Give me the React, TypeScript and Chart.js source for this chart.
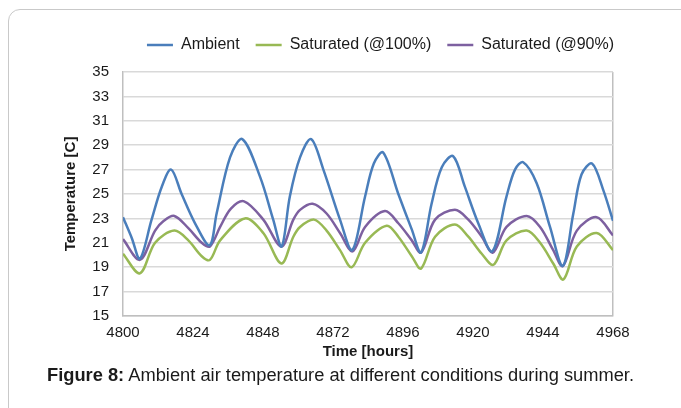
import React, { useEffect, useRef } from "react";
import { Chart, registerables } from "chart.js";

Chart.register(...registerables);

const xTickValues = [4800, 4824, 4848, 4872, 4896, 4920, 4944, 4968];
const yTickValues = [15, 17, 19, 21, 23, 25, 27, 29, 31, 33, 35];

const seriesLabels = ["Ambient", "Saturated (@100%)", "Saturated (@90%)"];

const ambientHours = [4800, 4803, 4805.8, 4809.8, 4813.3, 4816.5, 4820.1, 4824.7, 4829.7, 4832.1, 4836.7, 4840.9, 4847, 4851.5, 4854.4, 4857.2, 4860.7, 4864.5, 4868.7, 4874.4, 4878.6, 4883, 4886, 4889.2, 4894.4, 4899, 4902.2, 4905.8, 4909.3, 4913.2, 4917.2, 4921.8, 4926.6, 4931.5, 4934.4, 4937.2, 4941.8, 4946.4, 4950.8, 4954.4, 4957.2, 4960.8, 4964.7, 4968];
const ambientTemps = [23.1, 21.4, 19.7, 22.9, 25.6, 27.0, 25.0, 22.6, 20.8, 23.4, 28.0, 29.5, 26.4, 22.9, 20.7, 24.8, 28.0, 29.5, 27.0, 22.9, 20.4, 24.8, 27.5, 28.4, 25.0, 22.1, 20.2, 24.2, 27.2, 28.1, 25.6, 22.6, 20.3, 24.8, 27.0, 27.6, 25.9, 22.3, 19.1, 23.4, 26.6, 27.5, 25.3, 22.8];

const sat100Hours = [4800, 4805.8, 4811, 4817.6, 4822.4, 4827, 4829.8, 4833.3, 4841.8, 4848.1, 4854.3, 4858.4, 4860.7, 4865.5, 4869.8, 4874.4, 4878.4, 4883, 4890.4, 4894.4, 4899, 4902.2, 4907, 4913.8, 4918.4, 4923, 4927, 4931.5, 4938.4, 4943, 4947.5, 4951, 4955.6, 4962.4, 4968];
const sat100Temps = [20.1, 18.5, 21.0, 22.0, 21.2, 19.9, 19.6, 21.2, 23.0, 21.8, 19.3, 21.5, 22.3, 22.9, 22.0, 20.4, 19.0, 21.0, 22.4, 21.5, 19.9, 18.9, 21.5, 22.5, 21.5, 20.1, 19.2, 21.2, 22.0, 21.0, 19.3, 18.0, 20.7, 21.8, 20.4];

const sat90Hours = [4800, 4805.8, 4811, 4814, 4817.6, 4822.4, 4827, 4829.8, 4833.3, 4837, 4841.5, 4848.1, 4854.3, 4858.4, 4860.7, 4865, 4869.8, 4874.4, 4878.7, 4883, 4889.8, 4894.4, 4899, 4902.2, 4907, 4913.8, 4918.4, 4923, 4926.8, 4931.5, 4938.4, 4943, 4947.5, 4950.8, 4955.6, 4962.4, 4968];
const sat90Temps = [21.3, 19.6, 22.0, 22.8, 23.2, 22.2, 21.0, 20.7, 22.3, 23.8, 24.4, 22.9, 20.7, 22.9, 23.7, 24.2, 23.4, 21.8, 20.3, 22.3, 23.6, 22.6, 21.2, 20.2, 22.9, 23.7, 22.9, 21.5, 20.2, 22.3, 23.2, 22.3, 20.4, 19.1, 22.0, 23.1, 21.6];

const seriesColors = ["#4a7ebb", "#98b954", "#7d60a0"];

const FONT = "'Liberation Sans', Arial, sans-serif";
const GRID = "#d9d9d9";
const BORDER = "#bfbfbf";
const TEXT = "#1a1a1a";

const toPoints = (xs: number[], ys: number[]) => xs.map((x, i) => ({ x, y: ys[i] }));

const legendShift = {
  id: "legendShift",
  afterLayout(chart: any) {
    const lg = chart.legend;
    if (!lg) return;
    const dx = 45;
    const dy = -9;
    lg.left += dx;
    lg.right += dx;
    lg.top += dy;
    lg.bottom += dy;
  },
};

export default function App() {
  const canvasRef = useRef<HTMLCanvasElement | null>(null);

  useEffect(() => {
    const canvas = canvasRef.current;
    if (!canvas) return;
    const chart = new Chart(canvas, {
      type: "line",
      data: {
        datasets: [
          { label: seriesLabels[0], data: toPoints(ambientHours, ambientTemps) },
          { label: seriesLabels[1], data: toPoints(sat100Hours, sat100Temps) },
          { label: seriesLabels[2], data: toPoints(sat90Hours, sat90Temps) },
        ].map((d, i) => ({
          ...d,
          borderColor: seriesColors[i],
          backgroundColor: seriesColors[i],
          borderWidth: 2.5,
          pointRadius: 0,
          tension: 0.33,
          fill: false,
        })),
      },
      options: {
        animation: false,
        responsive: false,
        maintainAspectRatio: false,
        devicePixelRatio: 1,
        layout: { padding: { left: 58, right: 68, top: 30, bottom: 0 } },
        plugins: {
          tooltip: { enabled: false },
          legend: {
            display: true,
            position: "top",
            labels: {
              usePointStyle: true,
              pointStyle: "line",
              pointStyleWidth: 26,
              padding: 16,
              color: TEXT,
              font: { family: FONT, size: 16 },
            },
          },
        },
        scales: {
          x: {
            type: "linear",
            min: 4800,
            max: 4968,
            afterBuildTicks: (scale: any) => {
              scale.ticks = xTickValues.map((v) => ({ value: v }));
            },
            afterFit: (scale: any) => {
              scale.height = 49;
            },
            ticks: {
              padding: 8,
              color: TEXT,
              font: { family: FONT, size: 15 },
              maxRotation: 0,
              autoSkip: false,
              callback: (v: any) => String(v),
            },
            grid: {
              drawTicks: false,
              lineWidth: 1.5,
              color: (ctx: any) => (ctx.tick && ctx.tick.value === 4968 ? BORDER : "rgba(0,0,0,0)"),
            },
            border: { display: true, color: BORDER, width: 1.5 },
            title: {
              display: true,
              text: "Time [hours]",
              color: TEXT,
              font: { family: FONT, size: 15, weight: "bold" },
              padding: { top: 0, bottom: 4 },
            },
          },
          y: {
            type: "linear",
            min: 15,
            max: 35,
            afterBuildTicks: (scale: any) => {
              scale.ticks = yTickValues.map((v) => ({ value: v }));
            },
            afterFit: (scale: any) => {
              scale.width = 65;
            },
            ticks: {
              padding: 14,
              color: TEXT,
              font: { family: FONT, size: 15 },
              autoSkip: false,
            },
            grid: { drawTicks: false, color: GRID, lineWidth: 1.5 },
            border: { display: true, color: BORDER, width: 1.5 },
            title: {
              display: true,
              text: "Temperature [C]",
              color: TEXT,
              font: { family: FONT, size: 15, weight: "bold" },
              padding: { top: 4, bottom: 0 },
            },
          },
        },
      },
      plugins: [legendShift],
    } as any);
    return () => chart.destroy();
  }, []);

  return (
    <div
      style={{
        position: "absolute",
        left: 0,
        top: 0,
        width: 681,
        height: 408,
        background: "#fff",
        overflow: "hidden",
      }}
    >
      <div
        style={{
          position: "absolute",
          left: 8,
          top: 9,
          width: 720,
          height: 440,
          border: "1px solid #c9c9c9",
          borderRadius: 12,
          boxSizing: "border-box",
        }}
      />
      <canvas
        ref={canvasRef}
        width={681}
        height={365}
        style={{ position: "absolute", left: 0, top: 0, width: 681, height: 365 }}
      />
      <div
        style={{
          position: "absolute",
          left: 47,
          top: 364,
          fontFamily: FONT,
          fontSize: 18.3,
          lineHeight: "22px",
          color: TEXT,
          whiteSpace: "nowrap",
        }}
      >
        <b>Figure 8:</b> Ambient air temperature at different conditions during summer.
      </div>
    </div>
  );
}
